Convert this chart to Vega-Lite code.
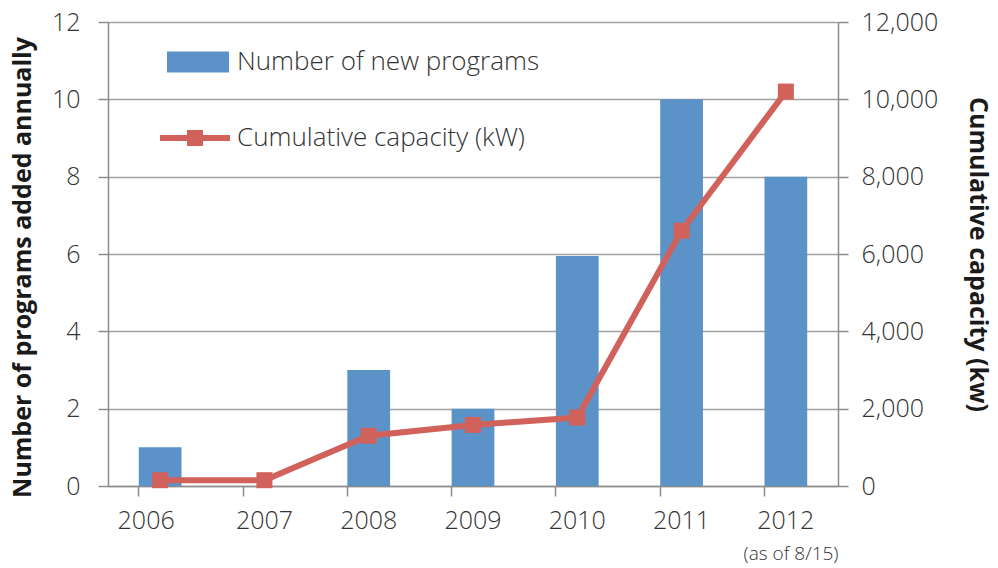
{
  "$schema": "https://vega.github.io/schema/vega-lite/v6.json",
  "width": 730,
  "height": 464,
  "autosize": {"type": "none"},
  "padding": {"left": 108, "top": 22, "right": 160, "bottom": 82},
  "background": "white",
  "config": {
    "font": "Open Sans",
    "view": {"stroke": null},
    "axis": {
      "labelFont": "Open Sans",
      "labelFontWeight": 300,
      "labelFontSize": 25,
      "labelColor": "#333333",
      "titleFont": "Open Sans",
      "titleFontSize": 25,
      "titleFontWeight": "bold",
      "titleColor": "#1a1a1a",
      "domainColor": "#8c8c8c",
      "domainWidth": 1.5,
      "tickColor": "#8c8c8c",
      "tickWidth": 1.5,
      "tickSize": 10,
      "gridColor": "#a0a0a0",
      "gridWidth": 1.5
    },
    "legend": {
      "labelFont": "Open Sans",
      "labelFontWeight": 300,
      "labelFontSize": 26,
      "labelColor": "#333333",
      "labelLimit": 0
    }
  },
  "data": {
    "values": [
      {"year": "2006", "programs": 1, "capacity": 150},
      {"year": "2007", "programs": 0, "capacity": 150},
      {"year": "2008", "programs": 3, "capacity": 1300},
      {"year": "2009", "programs": 2, "capacity": 1580},
      {"year": "2010", "programs": 5.95, "capacity": 1770},
      {"year": "2011", "programs": 10, "capacity": 6600},
      {"year": "2012", "programs": 8, "capacity": 10200}
    ]
  },
  "encoding": {
    "x": {
      "field": "year",
      "type": "ordinal",
      "scale": {"paddingInner": 0.59, "paddingOuter": 0.295},
      "axis": {
        "title": "(as of 8/15)",
        "titleAnchor": "end",
        "titleFontSize": 19,
        "titleFontWeight": 300,
        "titleColor": "#333333",
        "titlePadding": 11,
        "labelAngle": 0,
        "labelPadding": 12,
        "bandPosition": 0,
        "ticks": true,
        "domain": true,
        "labelOffset": {"condition": {"test": "datum.value === '2006'", "value": -14}, "value": 0}
      }
    }
  },
  "layer": [
    {
      "mark": {"type": "bar"},
      "encoding": {
        "y": {
          "field": "programs",
          "type": "quantitative",
          "scale": {"domain": [0, 12]},
          "axis": {
            "title": "Number of programs added annually",
            "values": [0, 2, 4, 6, 8, 10, 12],
            "grid": true,
            "labelPadding": 18,
            "titlePadding": 16,
            "titleY": 245
          }
        },
        "fill": {
          "datum": "Number of new programs",
          "scale": {"range": ["#5B93C8"]},
          "legend": {
            "title": null,
            "orient": "none",
            "legendX": 59,
            "legendY": 9,
            "padding": 0,
            "symbolType": "M-1,-0.34L1,-0.34L1,0.34L-1,0.34Z",
            "symbolSize": 3844,
            "symbolStrokeWidth": 0,
            "labelOffset": 8
          }
        }
      }
    },
    {
      "mark": {"type": "line", "strokeWidth": 6},
      "encoding": {
        "y": {
          "field": "capacity",
          "type": "quantitative",
          "scale": {"domain": [0, 12000]},
          "axis": {
            "orient": "right",
            "title": "Cumulative capacity (kw)",
            "values": [0, 2000, 4000, 6000, 8000, 10000, 12000],
            "format": ",.0f",
            "grid": false,
            "labelPadding": 13,
            "titlePadding": 27
          }
        },
        "stroke": {
          "datum": "Cumulative capacity (kW)",
          "scale": {"range": ["#D0625B"]},
          "legend": {
            "title": null,
            "orient": "none",
            "legendX": 52,
            "legendY": 81,
            "padding": 0,
            "symbolType": "M-1,-0.086L1,-0.086L1,0.086L-1,0.086Z M-0.23,-0.23L0.23,-0.23L0.23,0.23L-0.23,0.23Z",
            "symbolSize": 4900,
            "symbolFillColor": "#D0625B",
            "symbolStrokeWidth": 0,
            "labelOffset": 7
          }
        }
      }
    },
    {
      "mark": {"type": "point", "shape": "square", "size": 256, "filled": true, "color": "#D0625B", "opacity": 1},
      "encoding": {
        "y": {"field": "capacity", "type": "quantitative", "scale": {"domain": [0, 12000]}, "axis": null}
      }
    }
  ],
  "resolve": {"scale": {"y": "independent", "fill": "independent", "stroke": "independent"}}
}
